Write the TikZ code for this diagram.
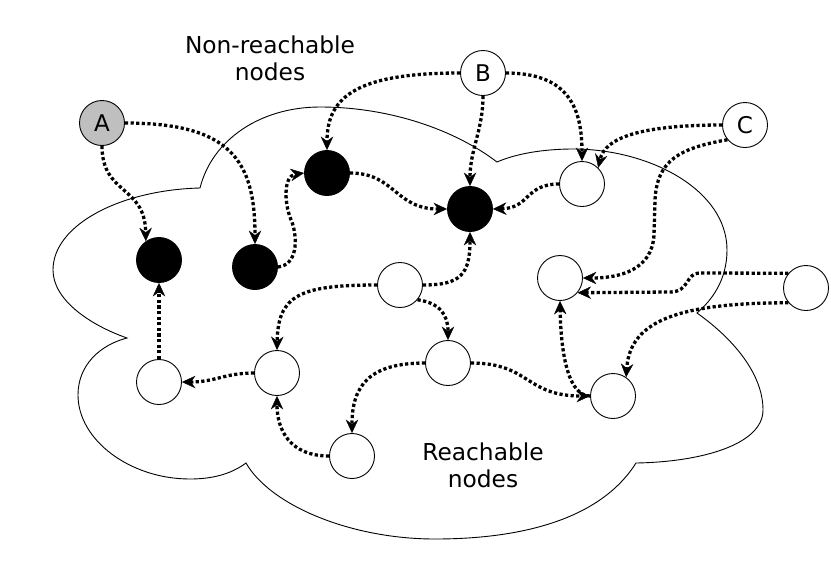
\documentclass[tikz,border=0pt]{standalone}
\usepackage{fontspec}
\setmainfont{DejaVu Sans}
\usetikzlibrary{arrows.meta}
\tikzset{
  nd/.style={circle, draw, line width=0.9pt, minimum size=45pt, inner sep=0pt, fill=white, font=\fontsize{23}{27}\selectfont},
  blk/.style={nd, fill=black},
  edge/.style={line width=3.3pt, dash pattern=on 3.2pt off 2.4pt,
    -{Stealth[length=13.5pt,width=12.5pt,inset=4.5pt,line width=0.4pt]}},
  lbl/.style={align=center, font=\fontsize{23.3}{27}\selectfont},
  cloudline/.style={line width=0.9pt}
}
\begin{document}
\begin{tikzpicture}[x=1pt,y=-1pt]
\useasboundingbox (0,0) rectangle (831,566);
% cloud
\draw[cloudline] (200,188) .. controls (212,140) and (260,107) .. (320,107)
  .. controls (390,107) and (455,130) .. (497,162)
  .. controls (520,152) and (550,149) .. (573,149)
  .. controls (650,149) and (727,190) .. (727,250)
  .. controls (727,280) and (712,300) .. (697,313)
  .. controls (735,340) and (763,375) .. (763,410)
  .. controls (763,445) and (700,462) .. (636,463)
  .. controls (600,520) and (520,539) .. (435,539)
  .. controls (350,539) and (270,505) .. (246,463)
  .. controls (230,475) and (210,479) .. (190,479)
  .. controls (130,479) and (78,440) .. (78,395)
  .. controls (78,365) and (100,345) .. (127,338)
  .. controls (90,325) and (53,300) .. (53,270)
  .. controls (53,225) and (120,190) .. (200,188) -- cycle;
% labels
\node[lbl] (tnr) at (270,58) {Non-reachable\\nodes};
\node[lbl] (tr) at (483,465) {Reachable\\nodes};
% nodes
\node[nd, fill=gray!50] (A) at (102,123) {A};
\node[nd] (B) at (483,73) {B};
\node[nd] (C) at (745,125) {C};
\node[blk] (b1) at (159,260) {};
\node[blk] (b2) at (255,267) {};
\node[blk] (b3) at (327,173) {};
\node[blk] (b4) at (470,209) {};
\node[nd] (w1) at (582,184) {};
\node[nd] (w2) at (560,278) {};
\node[nd] (w3) at (806,288) {};
\node[nd] (w4) at (400,285) {};
\node[nd] (w5) at (277,373) {};
\node[nd] (w6) at (159,382) {};
\node[nd] (w7) at (448,363) {};
\node[nd] (w8) at (352,456) {};
\node[nd] (w9) at (613,396) {};
% edges
\draw[edge] (A.south) .. controls (102,195) and (145,185) .. (b1.125);
\draw[edge] (A.east) .. controls (230,123) and (255,160) .. (b2.north);
\draw[edge] (b2.east) .. controls (297,265) and (298,240) .. (292,222)
  .. controls (284,205) and (283,176) .. (b3.west);
\draw[edge] (B.west) .. controls (360,73) and (327,95) .. (b3.north);
\draw[edge] (B.south) .. controls (483,130) and (470,150) .. (b4.north);
\draw[edge] (B.east) .. controls (570,73) and (582,110) .. (w1.north);
\draw[edge] (C.west) .. controls (640,125) and (605,138) .. (w1.45);
\draw[edge] (C.220) .. controls (680,148) and (657,160) .. (655,200) -- (654,235)
  .. controls (652,270) and (620,278) .. (w2.east);
\draw[edge] (w3.140) -- (700,273) .. controls (685,273) and (690,292) .. (670,292) -- (w2.-40);
\draw[edge] (w3.220) .. controls (680,303) and (630,320) .. (w9.55);
\draw[edge] (w1.west) .. controls (525,184) and (530,208) .. (b4.east);
\draw[edge] (b3.east) .. controls (395,173) and (395,209) .. (b4.west);
\draw[edge] (w4.east) .. controls (460,285) and (470,275) .. (b4.south);
\draw[edge] (w4.west) .. controls (300,285) and (278,295) .. (w5.north);
\draw[edge] (w4.-40) .. controls (440,303) and (448,315) .. (w7.north);
\draw[edge] (w5.west) .. controls (225,373) and (215,382) .. (w6.east);
\draw[edge] (w6.north) -- (b1.south);
\draw[edge] (w8.west) .. controls (290,456) and (277,430) .. (w5.south);
\draw[edge] (w7.west) .. controls (370,363) and (352,385) .. (w8.north);
\draw[edge] (w9.west) .. controls (570,396) and (561,360) .. (w2.south);
\draw[edge] (w7.east) .. controls (530,363) and (525,396) .. (w9.west);
\end{tikzpicture}
\end{document}
